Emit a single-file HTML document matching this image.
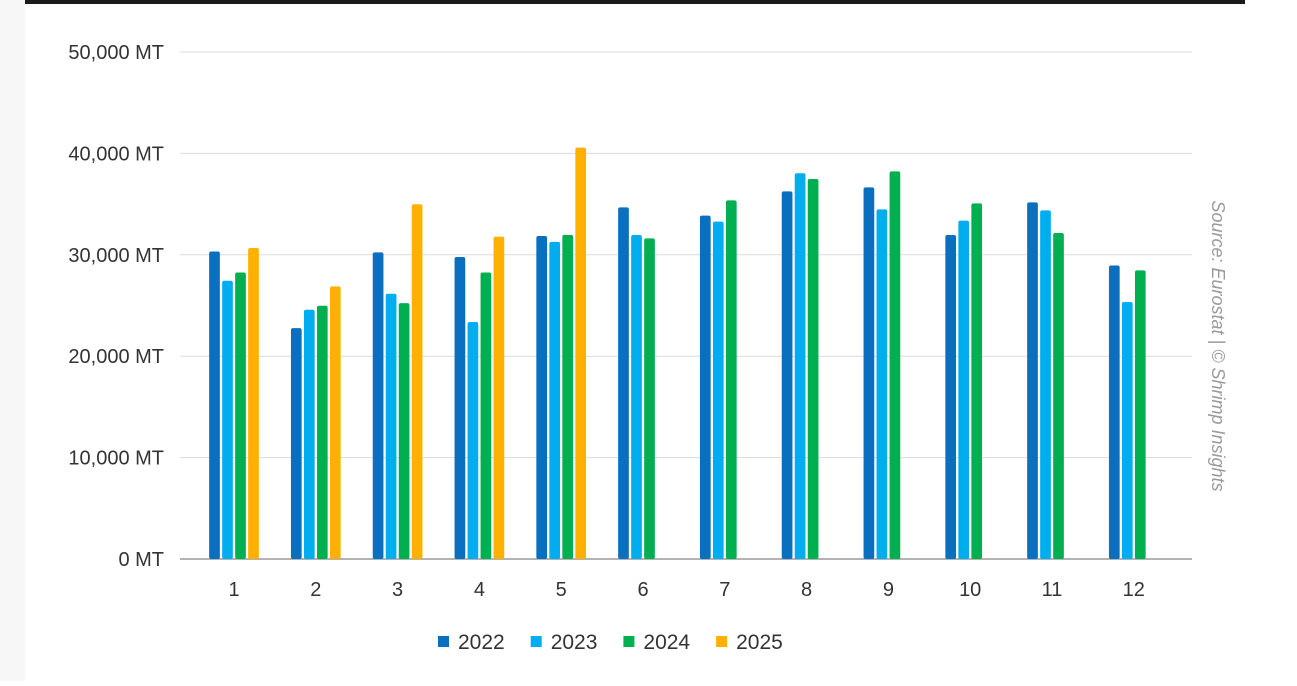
<!DOCTYPE html>
<html><head><meta charset="utf-8"><style>
html,body{margin:0;padding:0;background:#fff;}
body{width:1297px;height:681px;overflow:hidden;font-family:"Liberation Sans",Arial,sans-serif;}
</style></head><body>
<svg id="chart" width="1297" height="681" viewBox="0 0 1297 681" xmlns="http://www.w3.org/2000/svg">
<rect x="0" y="0" width="25" height="681" fill="#f7f7f7"/>
<rect x="25" y="0" width="1220" height="4" fill="#1a1a1a"/>
<g id="grid"></g>
<g id="yaxis"></g>
<g id="bars"></g>
<g id="xaxis"></g>
<g id="legend"></g>
<text x="1212" y="346" transform="rotate(90 1212 346)" text-anchor="middle" font-size="18" font-style="italic" fill="#9a9a9a">Source: Eurostat | © Shrimp Insights</text>
</svg>
<script>
const categories = ["1","2","3","4","5","6","7","8","9","10","11","12"];
const seriesNames = ["2022","2023","2024","2025"];
const s2022 = [30330,22770,30240,29780,31860,34680,33860,36260,36650,31950,35170,28950];
const s2023 = [27440,24580,26160,23370,31270,31950,33270,38040,34480,33370,34380,25340];
const s2024 = [28260,24980,25240,28260,31960,31620,35370,37480,38230,35070,32150,28460];
const s2025 = [30670,26880,34980,31790,40570,null,null,null,null,null,null,null];
const yTicks = [0,10000,20000,30000,40000,50000];
const yTickLabels = ["0 MT","10,000 MT","20,000 MT","30,000 MT","40,000 MT","50,000 MT"];

const colors = ["#0b6fbf","#00aeef","#00b050","#ffb000"];
const allSeries = [s2022,s2023,s2024,s2025];
const NS = "http://www.w3.org/2000/svg";
const plotL = 180, plotR = 1192, y0 = 559, yTop = 52, yMax = 50000;
const firstCenter = 234, step = 81.8;
const barW = 10.7, barStep = 13;
function yScale(v){ return y0 - (v / yMax) * (y0 - yTop); }
function xCenter(i){ return firstCenter + i * step; }
function mk(tag, attrs, parent){ const e = document.createElementNS(NS, tag); for (const k in attrs) e.setAttribute(k, attrs[k]); parent.appendChild(e); return e; }

const grid = document.getElementById('grid');
const yaxis = document.getElementById('yaxis');
yTicks.forEach((t, i) => {
  const y = yScale(t);
  const ln = mk('line', {x1: plotL, x2: plotR, y1: y, y2: y, stroke: i === 0 ? '#9a9a9a' : '#dcdcdc', 'stroke-width': i === 0 ? 1.5 : 1}, grid);
  
  
  const tx = mk('text', {x: 164, y: y + 7, 'text-anchor': 'end', 'font-size': 20, fill: '#333'}, yaxis);
  tx.textContent = yTickLabels[i];
  
  
});

const bars = document.getElementById('bars');
categories.forEach((c, i) => {
  const groupLeft = xCenter(i) - (4 * barStep - (barStep - barW)) / 2;
  allSeries.forEach((s, k) => {
    const v = s[i];
    if (v === null || v === undefined) return;
    const y = yScale(v);
    const r = mk('rect', {x: groupLeft + k * barStep, y: y, width: barW, height: y0 - y, rx: 2, fill: colors[k]}, bars);
    
    
  });
});

const xaxis = document.getElementById('xaxis');
categories.forEach((c, i) => {
  const t = mk('text', {x: xCenter(i), y: 596, 'text-anchor': 'middle', 'font-size': 20, fill: '#333'}, xaxis);
  t.textContent = c;
  
  
});

const legend = document.getElementById('legend');
seriesNames.forEach((n, k) => {
  const x = 438 + k * 92.7;
  const g = mk('g', {}, legend);
  
  
  mk('rect', {x: x, y: 636, width: 11, height: 11, fill: colors[k]}, g);
  const t = mk('text', {x: x + 20, y: 649, 'font-size': 21, fill: '#333'}, g);
  t.textContent = n;
});
</script>
</body></html>
